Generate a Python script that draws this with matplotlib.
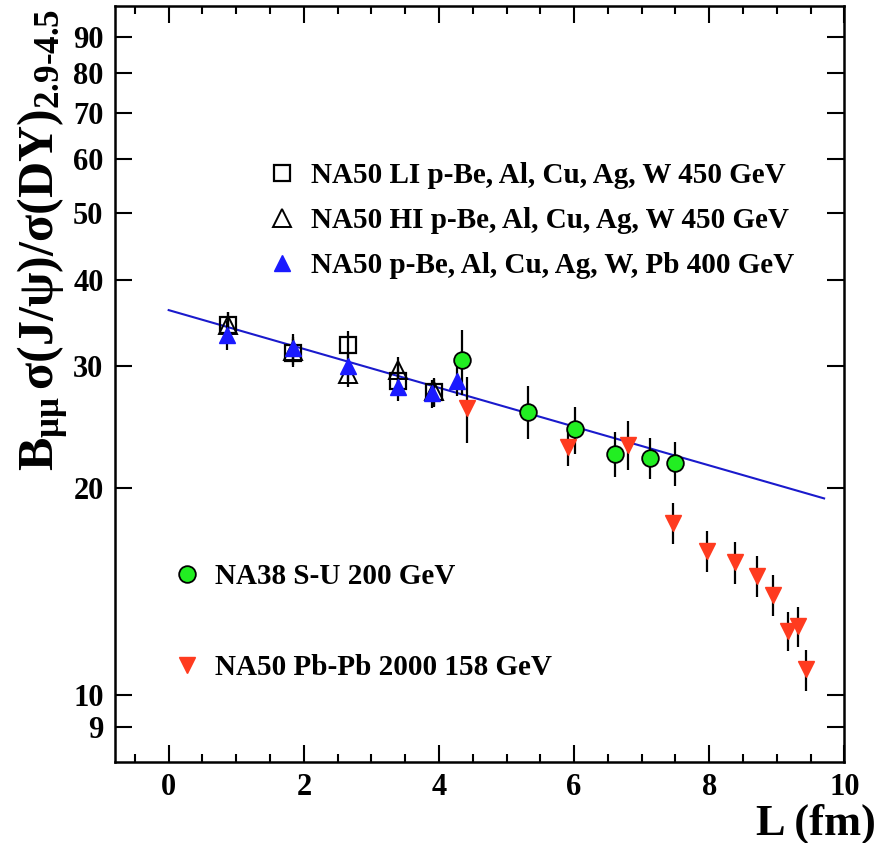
import matplotlib
matplotlib.use("Agg")
import matplotlib.pyplot as plt
from matplotlib.ticker import FixedLocator, FixedFormatter, MultipleLocator, NullLocator

# NA50 LI p-A 450 GeV (open squares)
li_L = [0.88, 1.84, 2.65, 3.40, 3.92]
li_y = [34.4, 31.4, 32.2, 28.6, 27.5]
li_err = [1.6, 1.5, 1.6, 1.3, 1.3]

# NA50 HI p-A 450 GeV (open triangles)
hi_L = [0.88, 1.84, 2.65, 3.40, 3.92]
hi_y = [34.4, 31.6, 29.2, 29.6, 27.6]
hi_err = [1.6, 1.5, 1.2, 1.4, 1.3]

# NA50 p-A 400 GeV (blue triangles)
pa_L = [0.87, 1.84, 2.65, 3.40, 3.90, 4.26]
pa_y = [33.3, 31.9, 30.0, 28.0, 27.4, 28.6]
pa_err = [1.6, 1.5, 1.4, 1.3, 1.3, 1.4]

# NA38 S-U 200 GeV (green circles)
su_L = [4.34, 5.32, 6.01, 6.61, 7.13, 7.50]
su_y = [30.6, 25.8, 24.3, 22.4, 22.1, 21.7]
su_err = [3.3, 2.3, 1.9, 1.7, 1.5, 1.6]

# NA50 Pb-Pb 2000 158 GeV (red down triangles)
pb_L = [4.42, 5.91, 6.80, 7.47, 7.97, 8.38, 8.70, 8.95, 9.16, 9.32, 9.43]
pb_y = [26.1, 22.9, 23.1, 17.8, 16.2, 15.6, 14.9, 14.0, 12.4, 12.6, 10.9]
pb_err = [2.9, 1.4, 1.9, 1.2, 1.1, 1.1, 1.0, 0.95, 0.8, 0.85, 0.75]

# absorption fit line (end points)
fit_L = [0.0, 9.7]
fit_y = [36.2, 19.3]

y_ticks = [9, 10, 20, 30, 40, 50, 60, 70, 80, 90]
y_labels = ["9", "10", "20", "30", "40", "50", "60", "70", "80", "90"]

labels = ["NA50 LI p-Be, Al, Cu, Ag, W 450 GeV",
          "NA50 HI p-Be, Al, Cu, Ag, W 450 GeV",
          "NA50 p-Be, Al, Cu, Ag, W, Pb 400 GeV",
          "NA38 S-U 200 GeV",
          "NA50 Pb-Pb 2000 158 GeV"]

plt.rcParams["font.family"] = "Liberation Serif"
plt.rcParams["font.weight"] = "bold"
plt.rcParams["axes.labelweight"] = "bold"
plt.rcParams["mathtext.fontset"] = "custom"
plt.rcParams["mathtext.rm"] = "Liberation Serif:bold"
plt.rcParams["mathtext.it"] = "Liberation Serif:bold"
plt.rcParams["mathtext.bf"] = "Liberation Serif:bold"

fig = plt.figure(figsize=(8.75, 8.43), dpi=100)
ax = fig.add_axes([0.131, 0.096, 0.834, 0.897])

ax.plot(fit_L, fit_y, color="#1a1acc", lw=1.5, zorder=2)

ebkw = dict(fmt="none", ecolor="black", elinewidth=1.6, capsize=0, zorder=3)
ax.errorbar(li_L, li_y, yerr=li_err, **ebkw)
ax.errorbar(hi_L, hi_y, yerr=hi_err, **ebkw)
ax.errorbar(pa_L, pa_y, yerr=pa_err, **ebkw)
ax.errorbar(su_L, su_y, yerr=su_err, **ebkw)
ax.errorbar(pb_L, pb_y, yerr=pb_err, **ebkw)

h_li, = ax.plot(li_L, li_y, ls="none", marker="s", ms=12, mfc="none",
                mec="black", mew=1.6, zorder=4)
h_hi, = ax.plot(hi_L, hi_y, ls="none", marker="^", ms=13, mfc="none",
                mec="black", mew=1.4, zorder=4)
h_pa, = ax.plot(pa_L, pa_y, ls="none", marker="^", ms=12, color="#1a1aff",
                mec="#1a1aff", zorder=5)
h_su, = ax.plot(su_L, su_y, ls="none", marker="o", ms=12, mfc="#22ee22",
                mec="black", mew=1.3, zorder=5)
h_pb, = ax.plot(pb_L, pb_y, ls="none", marker="v", ms=12, color="#ff3b1f",
                zorder=5)

ax.set_yscale("log")
ax.set_xlim(-0.8, 10)
ax.set_ylim(8, 100)

ax.yaxis.set_major_locator(FixedLocator(y_ticks))
ax.yaxis.set_major_formatter(FixedFormatter(y_labels))
ax.yaxis.set_minor_locator(NullLocator())
ax.xaxis.set_major_locator(MultipleLocator(2))
ax.xaxis.set_minor_locator(MultipleLocator(0.5))

ax.tick_params(which="both", direction="in", top=True, right=True, width=1.5)
ax.tick_params(which="major", length=12, labelsize=22, pad=8)
ax.tick_params(which="minor", length=6)
for sp in ax.spines.values():
    sp.set_linewidth(1.8)

ax.set_ylabel(r"$\mathrm{B_{\mu\mu}\,\sigma(J/\psi)/\sigma(DY)_{2.9\text{-}4.5}}$",
              fontsize=36, va="center")
ax.yaxis.set_label_coords(-0.097, 0.69)
ax.set_xlabel("L (fm)", fontsize=32, ha="right", va="center")
ax.xaxis.set_label_coords(1.043, -0.082)

leg1 = ax.legend([h_li, h_hi, h_pa], labels[:3], loc="upper left",
                 bbox_to_anchor=(0.175, 0.828), frameon=False, fontsize=21,
                 handlelength=0.9, handletextpad=0.55, labelspacing=0.62)
ax.add_artist(leg1)
ax.legend([h_su, h_pb], labels[3:], loc="upper left",
          bbox_to_anchor=(0.045, 0.298), frameon=False, fontsize=21,
          handlelength=0.9, handletextpad=0.5, labelspacing=2.2)

fig.savefig("out.png", dpi=100)
